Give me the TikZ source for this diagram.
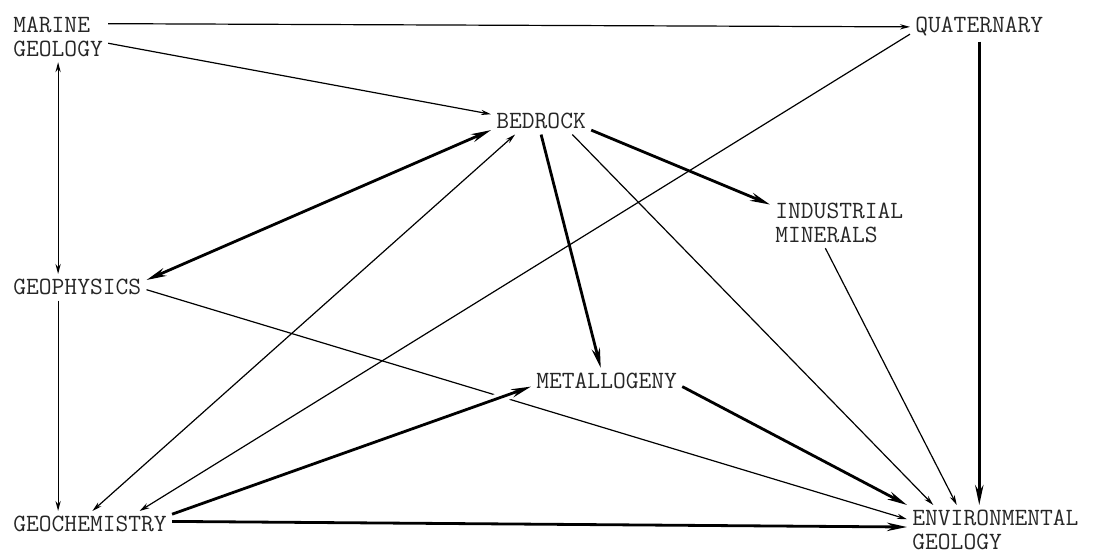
\documentclass[tikz,border=0pt]{standalone}
\usepackage{fontspec}
\usetikzlibrary{arrows.meta}

\begin{document}
\begin{tikzpicture}[x=0.5pt, y=-0.5pt,
    tipS/.tip={Stealth[length=5pt, width=2.6pt]},
    tipSo/.tip={Stealth[open, length=5pt, width=2.8pt]},
    tipL/.tip={Stealth[length=10pt, width=4.2pt]},
    tipLo/.tip={Stealth[open, length=10pt, width=4.2pt]},
    lbl/.style={anchor=north west, inner sep=2.5pt, align=left, text=black!85, font=\ttfamily\fontsize{12.4}{11.8}\selectfont},
    thinlink/.style={line width=0.6pt, -tipS},
    thicklink/.style={line width=1.4pt, -tipL},
    halo/.style={preaction={draw=white, line width=5pt, -}}]
    \useasboundingbox (0,0) rectangle (1097,556);

    \node[lbl] (marine) at (8,12) {MARINE\\GEOLOGY};
    \node[lbl] (quat) at (910,12) {QUATERNARY};
    \node[lbl] (bedrock) at (491,108) {BEDROCK};
    \node[lbl] (indmin) at (770,198) {INDUSTRIAL\\MINERALS};
    \node[lbl] (geophys) at (8,274) {GEOPHYSICS};
    \node[lbl] (metal) at (531,368) {METALLOGENY};
    \node[lbl] (geochem) at (8,511) {GEOCHEMISTRY};
    \node[lbl] (env) at (907,505) {ENVIRONMENTAL\\GEOLOGY};

    \draw[thinlink] (marine.15) -- (quat.west);
    \draw[thinlink] (marine.-7) -- (bedrock.172);
    \draw[thinlink, tipS-tipS] (marine.south) -- (marine.south |- geophys.north);
    \draw[thinlink] (marine.south |- geophys.south) -- (marine.south |- geochem.north);
    \draw[thicklink, tipLo-tipL] (geophys.6) -- (bedrock.190);
    \draw[thinlink, tipS-tipS] (geochem.80) -- (bedrock.207);
    \draw[thinlink, -tipSo] (quat.186) -- (geochem.15);
    \draw[thicklink] (bedrock.south) -- (metal.114);
    \draw[thicklink] (bedrock.-10) -- (indmin.165);
    \draw[thinlink] (bedrock.-23) -- (env.158);
    \draw[thinlink] (indmin.241) -- (env.147);
    \draw[thicklink] (quat.south) -- (quat.south |- env.north);
    \draw[thinlink] (geophys.-2) -- (env.173);
    \draw[thicklink] (metal.-4) -- (env.north west);
    \draw[thicklink, halo] (geochem.7) -- (metal.184);
    \draw[thicklink] (geochem.2) -- (env.178);
\end{tikzpicture}
\end{document}
